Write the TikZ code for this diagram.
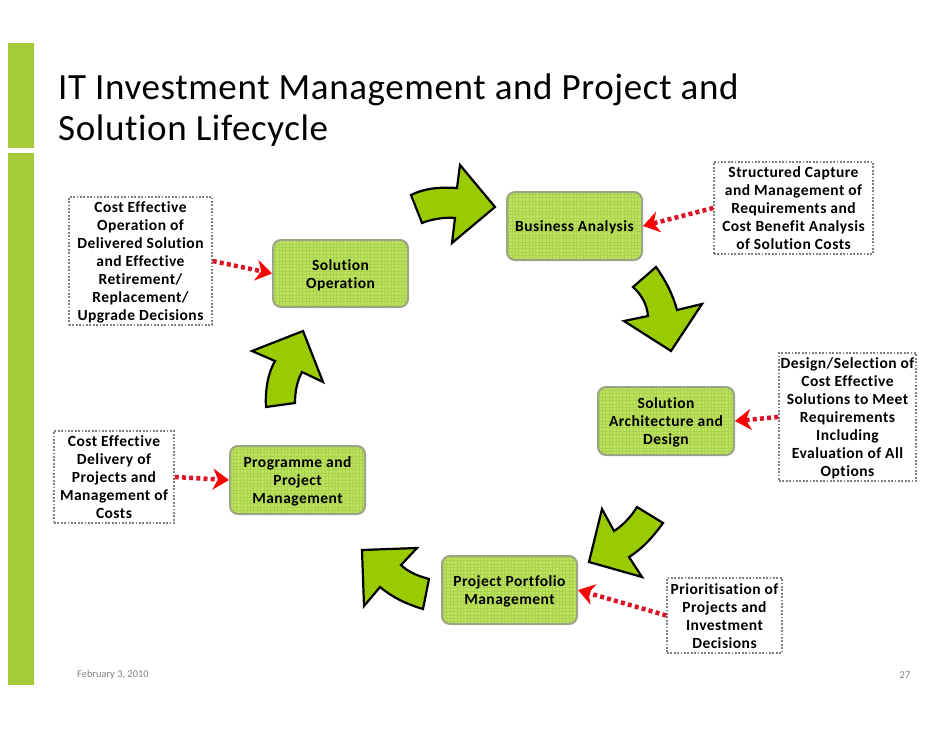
\documentclass[tikz,border=0pt]{standalone}
\usepackage{fontspec}
\setmainfont{Carlito}[Ligatures=NoCommon]
\usepackage{tikz}
\usetikzlibrary{arrows.meta}
\definecolor{barcolor}{HTML}{A6CB39}
\definecolor{stagefill}{HTML}{BFE160}
\definecolor{stagegrid}{HTML}{A9D34C}
\definecolor{stageedge}{HTML}{9BA485}
\definecolor{turncolor}{HTML}{99CC00}
\definecolor{flowcolor}{HTML}{DC1225}
\newcommand{\boxfont}{\fontsize{15.5}{18}\selectfont\addfontfeature{LetterSpace=3}\bfseries}
\newcommand{\linetop}{\rule{0pt}{16.6pt}}
\tikzset{
  stage/.style={shape=rectangle,rounded corners=8pt,draw=stageedge,line width=2pt,fill=stagefill,
    inner sep=0,align=center,font=\boxfont,
    path picture={\draw[stagegrid,line width=.6pt,x=1pt,y=1pt,step=3.4pt]
      (path picture bounding box.south west) grid (path picture bounding box.north east);}},
  note/.style={shape=rectangle,draw=gray,line width=1.5pt,dash pattern=on 1.8pt off 1.6pt,
    inner xsep=0,inner ysep=-2pt,align=center,font=\boxfont},
  flow/.style={flowcolor,line width=4.5pt,dash pattern=on 4pt off 3.2pt,
    -{Stealth[length=16pt,width=21pt,inset=5pt,red]}},
  turn/.style={draw=black,line width=2.2pt,fill=turncolor,line join=miter},
  bar/.style={fill=barcolor,draw=none},
  footer/.style={text=gray,font=\fontsize{10.4}{12}\selectfont}
}
\begin{document}
\begin{tikzpicture}[x=1pt,y=-1pt]
  \useasboundingbox (0,0) rectangle (942,728);
  \fill[bar] (8,43) rectangle (34,148);
  \fill[bar] (8,153) rectangle (34,685);
  \node[anchor=west,align=left,inner sep=0,font=\fontsize{37}{41}\selectfont\addfontfeature{LetterSpace=1.7}] (title) at (58,110)
    {IT Investment Management and Project and\\Solution Lifecycle};
  % lifecycle stages
  \node[stage,minimum width=135pt,minimum height=68pt] (v1) at (574.5,226) {\linetop Business Analysis\strut};
  \node[stage,minimum width=136pt,minimum height=68pt] (v2) at (666,421) {\linetop Solution\\Architecture and\\Design\strut};
  \node[stage,minimum width=135pt,minimum height=68pt] (v3) at (509.5,590) {\linetop Project Portfolio\\Management\strut};
  \node[stage,minimum width=135pt,minimum height=68pt] (v4) at (297.5,480) {\linetop Programme and\\Project\\Management\strut};
  \node[stage,minimum width=135pt,minimum height=67pt] (v5) at (340.5,273.5) {\linetop Solution\\Operation\strut};
  % notes
  \node[note,minimum width=159pt,minimum height=92pt] (p1) at (793.5,208) {\linetop Structured Capture\\and Management of\\Requirements and\\Cost Benefit Analysis\\of Solution Costs\strut};
  \node[note,minimum width=137pt,minimum height=128pt] (p2) at (847.5,417) {\linetop Design/Selection of\\Cost Effective\\Solutions to Meet\\Requirements\\Including\\Evaluation of All\\Options\strut};
  \node[note,minimum width=115pt,minimum height=75pt] (p3) at (724.5,615.5) {\linetop Prioritisation of\\Projects and\\Investment\\Decisions\strut};
  \node[note,minimum width=120pt,minimum height=92pt] (p4) at (114,477) {\linetop Cost Effective\\Delivery of\\Projects and\\Management of\\Costs\strut};
  \node[note,minimum width=143pt,minimum height=128pt] (p5) at (140.5,261) {\linetop Cost Effective\\Operation of\\Delivered Solution\\and Effective\\Retirement/\\Replacement/\\Upgrade Decisions\strut};
  \begin{scope}
    \draw[flow] (p1.west) -- (v1.east);
    \draw[flow] (p2.west) -- (v2.east);
    \draw[flow] (p3.west) -- (v3.east);
    \draw[flow] (p4.east) -- (v4.west);
    \draw[flow] (p5.east) -- (v5.west);
  \end{scope}
  % block arrows between stages
  \draw[turn] (411,195) .. controls (425,188) and (440,187) .. (457,188) -- (460,165) -- (495,207)
    -- (452,243) -- (455,218) .. controls (445,217) and (432,219) .. (422,223) -- cycle;
  \draw[turn] (656,267) .. controls (666,281) and (673,295) .. (677,310) -- (702,304) -- (671,351)
    -- (624,321) -- (648,316) .. controls (647,305) and (642,295) .. (633,287) -- cycle;
  \draw[turn] (663,523) .. controls (653,537) and (642,549) .. (629,557) -- (642,577) -- (589,562)
    -- (602,509) -- (614,531) .. controls (622,526) and (631,517) .. (637,507) -- cycle;
  \draw[turn] (429,579) .. controls (418,576) and (408,572) .. (401,565) -- (417,548) -- (362,550)
    -- (364,606) -- (380,587) .. controls (392,597) and (406,604) .. (423,609) -- cycle;
  \draw[turn] (266,407) -- (295,403) .. controls (295,392) and (297,381) .. (302,372) -- (323,382)
    -- (303,331) -- (252,351) -- (275,361) .. controls (268,373) and (265,390) .. (266,407) -- cycle;
  \node[footer,anchor=west,inner sep=0] (date) at (77,675) {February 3, 2010};
  \node[footer,inner sep=0] (page) at (905,675) {27};
\end{tikzpicture}
\end{document}
